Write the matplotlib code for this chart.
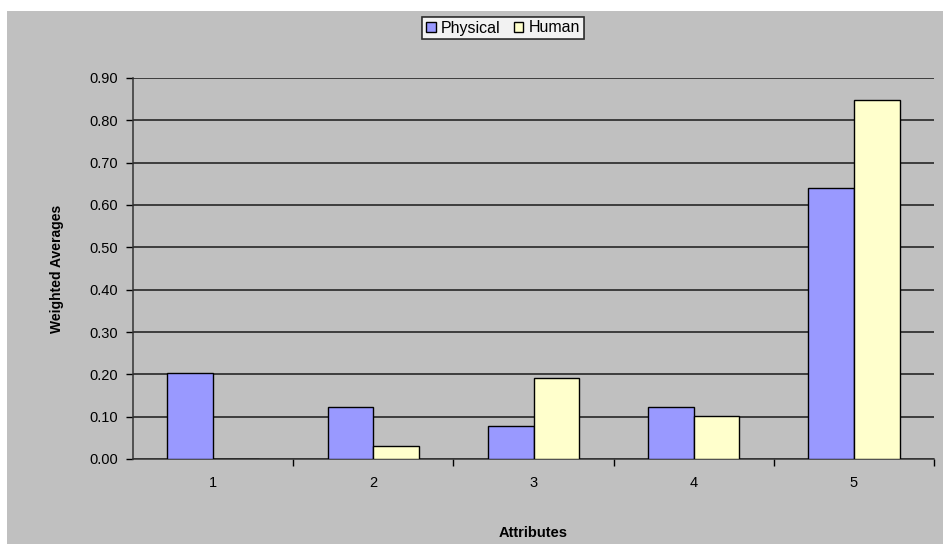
import matplotlib.pyplot as plt
import numpy as np
from matplotlib.patches import Rectangle

plt.rcParams["font.family"] = ["Liberation Sans", "DejaVu Sans"]

attributes = ["1", "2", "3", "4", "5"]
physical = [0.203, 0.123, 0.078, 0.124, 0.640]
human = [0.0, 0.031, 0.191, 0.102, 0.849]

BLUE = "#9999FF"
YELLOW = "#FFFFCC"
GRAY = "#C0C0C0"

fig = plt.figure(figsize=(9.43, 5.44), dpi=100, facecolor="white")
# chart area background, inset slightly from the top and left edges
fig.patches.append(Rectangle((7 / 943, 0), 1, 1 - 11 / 544, transform=fig.transFigure,
                             facecolor=GRAY, edgecolor="none", zorder=-10))

ax = fig.add_axes([133 / 943, 1 - 459 / 544, 801 / 943, 381 / 544])
ax.set_facecolor(GRAY)

x = np.arange(len(attributes))
w = 1 / 3.5
ax.bar(x - w / 2, physical, width=w, color=BLUE, edgecolor="black", linewidth=1.0,
       label="Physical", zorder=3)
ax.bar(x + w / 2, human, width=w, color=YELLOW, edgecolor="black", linewidth=1.0,
       label="Human", zorder=3)

ax.set_xlim(-0.5, len(attributes) - 0.5)
ax.set_ylim(0, 0.9)
ax.set_yticks(np.arange(0, 0.91, 0.1))
ax.set_yticklabels([f"{v:.2f}" for v in np.arange(0, 0.91, 0.1)], fontsize=10.5)
ax.yaxis.grid(True, color="#1a1a1a", linewidth=1.1, zorder=1)
ax.set_axisbelow(True)

# category labels centred, tick marks on the boundaries
ax.set_xticks(x)
ax.set_xticklabels(attributes, fontsize=10.5)
ax.tick_params(axis="x", length=0, pad=12)
ax.set_xticks(np.arange(0.5, len(attributes), 1), minor=True)
ax.tick_params(axis="x", which="minor", length=5, width=1, direction="out")
ax.tick_params(axis="y", length=5, width=1, direction="out", pad=6)

for side in ["top", "right"]:
    ax.spines[side].set_visible(False)
for side in ["left", "bottom"]:
    ax.spines[side].set_color("#333333")
    ax.spines[side].set_linewidth(1.1)

ax.set_ylabel("Weighted Averages", fontsize=10, fontweight="bold", labelpad=18)
ax.set_xlabel("Attributes", fontsize=10.5, fontweight="bold", labelpad=26)

leg = fig.legend(loc="center", bbox_to_anchor=(503 / 943, 1 - 28 / 544), ncol=2,
                 frameon=True, fancybox=False, fontsize=11.5, handlelength=0.6,
                 handleheight=0.6, handletextpad=0.35, columnspacing=0.8,
                 borderpad=0.25, borderaxespad=0)
leg.get_frame().set_edgecolor("black")
leg.get_frame().set_linewidth(1.2)

fig.savefig("out.png", dpi=100, facecolor=fig.get_facecolor())
